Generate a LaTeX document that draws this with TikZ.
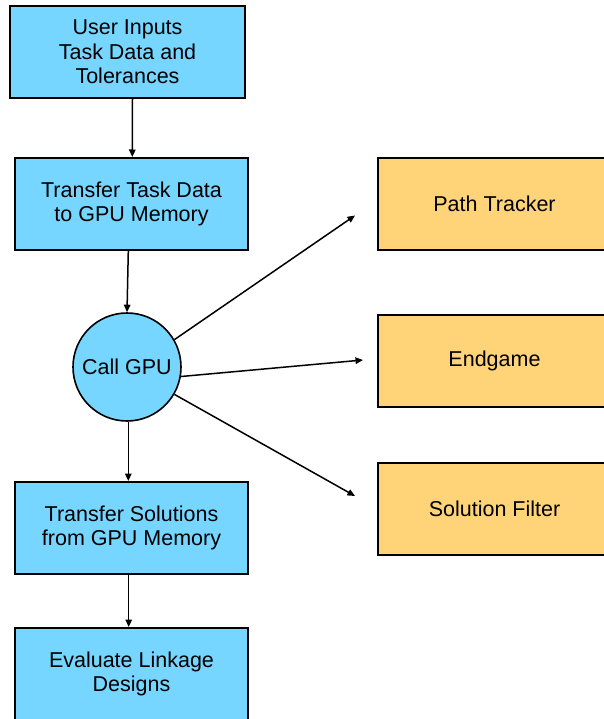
\documentclass[tikz,border=0pt]{standalone}
\usepackage{fontspec}
\setmainfont{Liberation Sans}
\usetikzlibrary{arrows.meta}
\definecolor{stepblue}{HTML}{76D6FF}
\definecolor{stageorange}{HTML}{FFD479}
\tikzset{
  flowbox/.style={draw=black, line width=2pt, fill=stepblue, minimum width=233pt,
    minimum height=92pt, inner sep=0pt, align=center,
    font=\fontsize{21.5}{24.5}\selectfont},
  stagebox/.style={flowbox, fill=stageorange},
  callnode/.style={circle, draw=black, line width=1.6pt, fill=stepblue,
    minimum size=108pt, inner sep=0pt, font=\fontsize{21.5}{24.5}\selectfont},
  link/.style={line width=1.5pt, -{Triangle[length=7.5pt,width=6.5pt]}}
}
\begin{document}
\begin{tikzpicture}[x=1pt, y=-1pt]
  \useasboundingbox (0,0) rectangle (604,719);
  \begin{scope}
  \clip (0,0) rectangle (604,719);
  % main flow
  \node[flowbox, minimum width=235pt] (inputs) at (127.5,52) {User Inputs\\Task Data and\\Tolerances};
  \node[flowbox] (toGPU) at (131.5,204) {Transfer Task Data\\to GPU Memory};
  \node[callnode] (call) at (127,367) {Call GPU};
  \node[flowbox] (fromGPU) at (131.5,528) {Transfer Solutions\\from GPU Memory};
  \node[flowbox] (evaluate) at (131.5,674) {Evaluate Linkage\\Designs};
  % GPU stages
  \node[stagebox] (tracker) at (494.5,204) {Path Tracker};
  \node[stagebox] (endgame) at (494.5,361) {Endgame};
  \node[stagebox] (filter) at (494.5,508.5) {Solution Filter};
  % free ends of the stage arrows
  \coordinate (toTracker) at (355,215.5);
  \coordinate (toEndgame) at (363,360);
  \coordinate (toFilter) at (355,496);
  % connectors
  \draw[link] ([xshift=5pt]inputs.south) -- ([xshift=0.8pt]toGPU.north);
  \draw[link] ([xshift=-3.2pt]toGPU.south) -- (call.north);
  \draw[link] ([xshift=1.3pt]call.south) -- ([xshift=-3.2pt]fromGPU.north);
  \draw[link] ([xshift=-2.8pt]fromGPU.south) -- ([xshift=-2.8pt]evaluate.north);
  \draw[link] (call.30) -- (toTracker);
  \draw[link] (call.-10) -- (toEndgame);
  \draw[link] (call.-30) -- (toFilter);
  \end{scope}
\end{tikzpicture}
\end{document}
